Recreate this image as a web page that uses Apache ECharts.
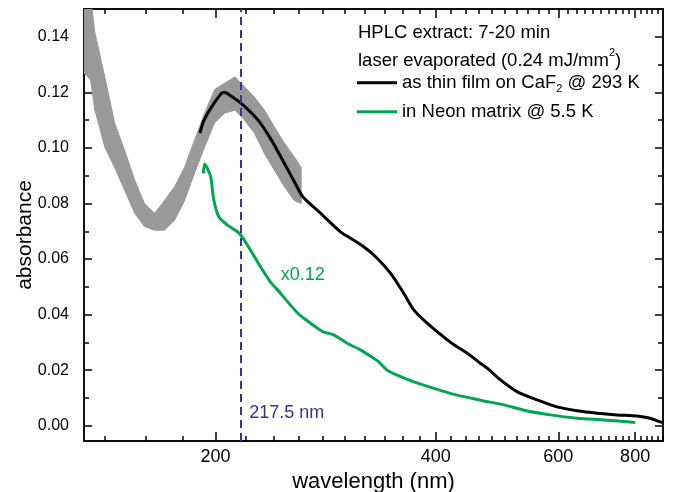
<!DOCTYPE html>
<html><head><meta charset="utf-8">
<script src="https://cdn.jsdelivr.net/npm/echarts@6/dist/echarts.min.js"></script>
<style>html,body{margin:0;padding:0;background:#fff}#c{width:673px;height:492px}</style>
</head><body><div id="c"></div>
<script>
// ---------- data (wavelength in nm, absorbance) ----------
// noisy gray spectrum: lower / upper edge of its noise band
const grayNm   = [130.6, 133.5, 135.3, 139.9, 144.5, 149.3, 154.3, 159.3, 164.6, 169.9, 175.5, 181.2, 187.1, 193.2, 199.4, 205.8, 212.7, 219.2, 226.2, 233.4, 240.8, 248.5, 256.4, 261.9];
const grayLow  = [0.127, 0.1244, 0.114, 0.1003, 0.093, 0.0848, 0.0765, 0.0717, 0.0704, 0.0704, 0.074, 0.081, 0.091, 0.1003, 0.109, 0.1125, 0.1136, 0.110, 0.1053, 0.098, 0.092, 0.086, 0.081, 0.080];
const grayHigh = [0.160, 0.155, 0.142, 0.1256, 0.109, 0.0992, 0.0884, 0.080, 0.0765, 0.081, 0.086, 0.093, 0.1028, 0.1125, 0.121, 0.1233, 0.1256, 0.122, 0.1183, 0.1136, 0.1075, 0.1017, 0.0967, 0.093];

const filmNm  = [190.3, 192.5, 195.5, 199.0, 203.7, 206.0, 210.2, 217.5, 228.8, 238.6, 248.5, 256.4, 263.3, 278.2, 296.2, 305.7, 318.7, 332.4, 346.6, 361.4, 373.1, 389.3, 415.1, 428.4, 442.6, 461.9, 472.4, 493.4, 521.9, 557.9, 597.2, 641.3, 689.9, 743.9, 805.9, 852.3, 891, 903];
const filmAbs = [0.1053, 0.1095, 0.1128, 0.1160, 0.1196, 0.1199, 0.1186, 0.1158, 0.1100, 0.1028, 0.0944, 0.0878, 0.0824, 0.0765, 0.0698, 0.0675, 0.0644, 0.0603, 0.0549, 0.0477, 0.0417, 0.0369, 0.0309, 0.0284, 0.0261, 0.0225, 0.0207, 0.0165, 0.0122, 0.0093, 0.0068, 0.0054, 0.0045, 0.0039, 0.0035, 0.0027, 0.0014, 0.0012];

const neonNm  = [192.4, 193.2, 194.4, 196.9, 198.9, 202.1, 207.5, 214.2, 217.5, 223.3, 230.5, 237.8, 245.5, 253.1, 261.3, 269.7, 280.6, 290.0, 302.5, 315.3, 328.8, 334.1, 343.0, 354.0, 373.1, 401.9, 428.4, 461.9, 498.6, 533.5, 584.1, 641.3, 706.9, 800.0];
const neonAbs = [0.0908, 0.0942, 0.0932, 0.0897, 0.0813, 0.0752, 0.0723, 0.0699, 0.0680, 0.0633, 0.0572, 0.0518, 0.0477, 0.0435, 0.0396, 0.0369, 0.0338, 0.0327, 0.0297, 0.0273, 0.0243, 0.0230, 0.0200, 0.0182, 0.0158, 0.0131, 0.0110, 0.0092, 0.0075, 0.0056, 0.0039, 0.0027, 0.0021, 0.0012];

const xMajorTicks = [200, 400, 600, 800];
const xMinorTicks = [140, 160, 180, 220, 240, 260, 280, 300, 320, 340, 360, 380, 420, 440, 460, 480, 500, 520, 540, 560, 580, 620, 640, 660, 680, 700, 720, 740, 760, 780, 820, 840, 860, 880, 900];
const yMajorTicks = [0.00, 0.02, 0.04, 0.06, 0.08, 0.10, 0.12, 0.14];
const yMinorTicks = [0.01, 0.03, 0.05, 0.07, 0.09, 0.11, 0.13, 0.15];
const markerNm = 217.5;

const filmName = 'as thin film on CaF2 @ 293 K';
const neonName = 'in Neon matrix @ 5.5 K';

// ---------- axis transform (the original wavelength axis is non-linear) ----------
function T(nm) { return Math.log(nm) - 0.23 * (nm / 1000) * (nm / 1000) + 20 / nm; }
const xMin = T(130.6), xMax = T(903);
const yMin = -0.0055, yMax = 0.15;
const FONT = '"Liberation Sans", Arial, Helvetica, sans-serif';
const NAVY = '#333399', GREEN = '#00a651', GRAY = '#999999';

const pairs = (xs, ys) => xs.map((x, i) => [T(x), ys[i]]);
const lineSty = { color: '#000', width: 1.5 };

function xAx(pos, tickNm, len, withLabel, extra) {
  const vals = tickNm.map(T);
  return Object.assign({
    type: 'value', position: pos, min: xMin, max: xMax, gridIndex: 0,
    axisLine: { show: true, onZero: false, lineStyle: lineSty },
    axisTick: { show: true, inside: true, length: len, customValues: vals, lineStyle: lineSty },
    axisLabel: withLabel ? {
      show: true, customValues: vals, color: '#000', fontSize: 18, fontFamily: FONT, margin: 7,
      formatter: v => { const k = tickNm.find(n => Math.abs(T(n) - v) < 1e-6); return k === undefined ? '' : String(k); }
    } : { show: false },
    splitLine: { show: false }
  }, extra || {});
}
function yAx(pos, ticks, len, withLabel) {
  return {
    type: 'value', position: pos, min: yMin, max: yMax, gridIndex: 0,
    axisLine: { show: true, onZero: false, lineStyle: lineSty },
    axisTick: { show: true, inside: true, length: len, customValues: ticks, lineStyle: lineSty },
    axisLabel: withLabel ? { show: true, customValues: ticks, color: '#000', fontSize: 16, fontFamily: FONT, margin: 15, formatter: v => v.toFixed(2) } : { show: false },
    splitLine: { show: false }
  };
}

const chart = echarts.init(document.getElementById('c'), null, { renderer: 'canvas' });
chart.setOption({
  animation: false,
  backgroundColor: '#fff',
  grid: { left: 84, top: 9, width: 579, height: 432, containLabel: false, outerBoundsMode: 'none' },
  title: {
    left: 358, top: 19, padding: 0,
    text: 'HPLC extract: 7-20 min\nlaser evaporated (0.24 mJ/mm{sup|2})',
    textStyle: {
      fontSize: 18.5, fontWeight: 'normal', color: '#000', fontFamily: FONT, lineHeight: 28,
      rich: { sup: { fontSize: 11, fontFamily: FONT, color: '#000', verticalAlign: 'top', lineHeight: 22 } }
    }
  },
  legend: {
    left: 357, top: 70.7, orient: 'vertical', padding: 0, itemGap: 5,
    itemWidth: 40, itemHeight: 3, icon: 'rect',
    data: [filmName, neonName],
    formatter: n => n === filmName ? 'as thin film on CaF{sub|2} @ 293 K' : n,
    textStyle: {
      fontSize: 18.5, color: '#000', fontFamily: FONT, lineHeight: 24,
      rich: { sub: { fontSize: 11, fontFamily: FONT, color: '#000', verticalAlign: 'bottom', lineHeight: 8 } }
    }
  },
  xAxis: [
    xAx('bottom', xMajorTicks, 9, true, {
      name: 'wavelength (nm)', nameLocation: 'middle', nameGap: 24,
      nameTextStyle: { fontSize: 22, color: '#000', fontFamily: FONT }
    }),
    xAx('bottom', xMinorTicks, 5, false),
    xAx('top', xMajorTicks, 9, false),
    xAx('top', xMinorTicks, 5, false)
  ],
  yAxis: [
    yAx('left', yMajorTicks, 8, true),
    yAx('left', yMinorTicks, 5, false),
    yAx('right', yMajorTicks, 8, false),
    yAx('right', yMinorTicks, 5, false)
  ],
  graphic: [
    { type: 'text', x: 25.5, y: 235, rotation: Math.PI / 2,
      style: { text: 'absorbance', fill: '#000', fontSize: 21, fontFamily: FONT, align: 'center', verticalAlign: 'middle' } },
    { type: 'text', x: 280.7, y: 275,
      style: { text: 'x0.12', fill: GREEN, fontSize: 18, fontFamily: FONT, align: 'left', verticalAlign: 'middle' } },
    { type: 'text', x: 249.3, y: 413,
      style: { text: '217.5 nm', fill: NAVY, fontSize: 18, fontFamily: FONT, align: 'left', verticalAlign: 'middle' } }
  ],
  series: [
    {
      type: 'custom', name: 'thin film (noisy)', xAxisIndex: 0, yAxisIndex: 0, clip: true, silent: true, z: 1,
      data: [[T(grayNm[0]), grayLow[0]]],
      renderItem: (params, api) => {
        const pts = [];
        for (let i = 0; i < grayNm.length; i++) pts.push(api.coord([T(grayNm[i]), grayHigh[i]]));
        for (let i = grayNm.length - 1; i >= 0; i--) pts.push(api.coord([T(grayNm[i]), grayLow[i]]));
        return { type: 'polygon', shape: { points: pts }, style: { fill: GRAY, stroke: GRAY, lineWidth: 1, lineJoin: 'round' } };
      }
    },
    {
      type: 'line', name: neonName, xAxisIndex: 0, yAxisIndex: 0, color: GREEN,
      data: pairs(neonNm, neonAbs), showSymbol: false, smooth: 0.25, z: 3,
      lineStyle: { color: GREEN, width: 3 }
    },
    {
      type: 'line', name: filmName, xAxisIndex: 0, yAxisIndex: 0, color: '#000',
      data: pairs(filmNm, filmAbs), showSymbol: false, smooth: 0.25, z: 4,
      lineStyle: { color: '#000', width: 3 },
      markLine: {
        silent: true, symbol: 'none', label: { show: false },
        lineStyle: { color: NAVY, type: [8, 5], width: 2 },
        data: [{ xAxis: T(markerNm) }]
      }
    }
  ]
});
</script>
</body></html>
